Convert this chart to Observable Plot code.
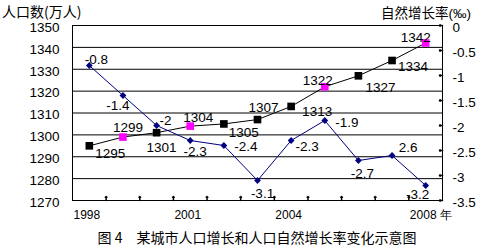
<!DOCTYPE html>
<html><head><meta charset="utf-8">
<script src="https://cdn.jsdelivr.net/npm/d3@7"></script>
<script src="https://cdn.jsdelivr.net/npm/@observablehq/plot@0.6"></script>
<style>
body{margin:0;background:#fff;}
#wrap{position:relative;width:489px;height:250px;overflow:hidden;font-family:"Noto Sans CJK SC",sans-serif;color:#000;background:#fff}
.t{position:absolute;font-size:14px;line-height:14px;white-space:pre;z-index:2}
.lat{font-family:"Liberation Sans",Arial,sans-serif}
#chart{position:absolute;left:0;top:20px;z-index:1}
</style></head><body>
<div id="wrap">
<div class="t" style="left:2px;top:4px">人口数(万人)</div>
<div class="t" style="left:381px;top:5px;font-size:13.5px">自然增长率<span class="lat">(‰)</span></div>
<div id="chart"></div>
<div class="t" style="left:0;width:514px;text-align:center;top:230px">图 4　某城市人口增长和人口自然增长率变化示意图</div>
</div>
<script>
// ---- data ----
const years = [1998,1999,2000,2001,2002,2003,2004,2005,2006,2007,2008];
const population = [1295,1299,1301,1304,1305,1307,1313,1322,1327,1334,1342];
const growthRate = [-0.8,-1.4,-2,-2.3,-2.4,-3.1,-2.3,-1.9,-2.7,-2.6,-3.2];
const growthLabels = ["-0.8","-1.4","-2","-2.3","-2.4","-3.1","-2.3","-1.9","-2.7","2.6","-3.2"];
const highlightYears = [1999,2001,2005,2008];
const popTicks = [1270,1280,1290,1300,1310,1320,1330,1340,1350];
const rateTicks = [0,-0.5,-1,-1.5,-2,-2.5,-3,-3.5];
const xLabelYears = [1998,2001,2004,2008];
const xLabels = ["1998","2001","2004","2008 年"];

// ---- label placement (pixel offsets, style only) ----
const popLabelOffsets = [[21,8],[5,-9],[5,15],[8,-8],[20,9],[6,-12],[26,5],[-7,-6],[22,12],[21,6],[-10,-5]];
const rateLabelOffsets = [[7,-6],[-5,10],[9,-5],[5,11],[22,1],[5,13],[16,6],[22,2],[4,13],[16,-8],[-8,9]];

// map right-axis (‰) onto left-axis domain
const popMin = 1270, popMax = 1350, rateMin = -3.5, rateMax = 0;
const toY = r => popMax + (r - rateMax) * (popMax - popMin) / (rateMax - rateMin);
const fromY = y => rateMax + (y - popMax) * (rateMax - rateMin) / (popMax - popMin);

const popData = years.map((year, i) => ({year, pop: population[i], hi: highlightYears.includes(year)}));
const rateData = years.map((year, i) => ({year, rate: growthRate[i], label: growthLabels[i]}));
const bounds = years.slice(1).map(y => y - 0.5);

const NAVY = "#000080", MAGENTA = "#FF00FF";

const chart = Plot.plot({
  width: 489, height: 205,
  marginLeft: 72, marginRight: 47, marginTop: 5, marginBottom: 25,
  style: {fontFamily: "'Liberation Sans', Arial, sans-serif", fontSize: "13.5px", background: "transparent", color: "black", overflow: "visible"},
  x: {domain: [years[0] - 0.5, years[years.length - 1] + 0.5], label: null},
  y: {domain: [popMin, popMax], label: null},
  marks: [
    Plot.ruleY(popTicks, {stroke: "black", strokeWidth: 1}),
    Plot.frame({stroke: "black", strokeWidth: 1}),
    Plot.axisY(popTicks, {anchor: "left", label: null, tickSize: 0, tickPadding: 13, tickFormat: d => String(d), dy: 2}),
    Plot.axisY(rateTicks.map(toY), {anchor: "right", label: null, tickSize: 0, tickPadding: 10,
      tickFormat: d => String(Math.round(fromY(d) * 10) / 10), dy: 2}),
    Plot.vector(rateTicks.map(toY), {y: d => d, frameAnchor: "right", length: 3, rotate: -90, anchor: "start", stroke: "black"}),
    Plot.vector(bounds, {x: d => d, frameAnchor: "bottom", length: 4, rotate: 0, anchor: "start", stroke: "black"}),
    Plot.axisX(xLabelYears.map(y => y - 0.5), {label: null, tickSize: 0, tickPadding: 10, textAnchor: "start", dx: 1, fontSize: 12,
      tickFormat: d => xLabels[xLabelYears.indexOf(d + 0.5)]}),
    Plot.line(popData, {x: "year", y: "pop", stroke: "black", strokeWidth: 1}),
    Plot.dot(popData, {x: "year", y: "pop", symbol: "square", r: 4.3, fill: d => d.hi ? MAGENTA : "black", stroke: "none"}),
    Plot.line(rateData, {x: "year", y: d => toY(d.rate), stroke: NAVY, strokeWidth: 1}),
    Plot.dot(rateData, {x: "year", y: d => toY(d.rate), symbol: "square", r: 2.7, rotate: 45, fill: NAVY, stroke: "none"}),
    ...popData.map((d, i) => Plot.text([d], {x: "year", y: "pop", text: r => String(r.pop),
      dx: popLabelOffsets[i][0], dy: popLabelOffsets[i][1], fill: "black"})),
    ...rateData.map((d, i) => Plot.text([d], {x: "year", y: r => toY(r.rate), text: "label",
      dx: rateLabelOffsets[i][0], dy: rateLabelOffsets[i][1], fill: "black"}))
  ]
});
document.getElementById("chart").appendChild(chart);
</script>
</body></html>
